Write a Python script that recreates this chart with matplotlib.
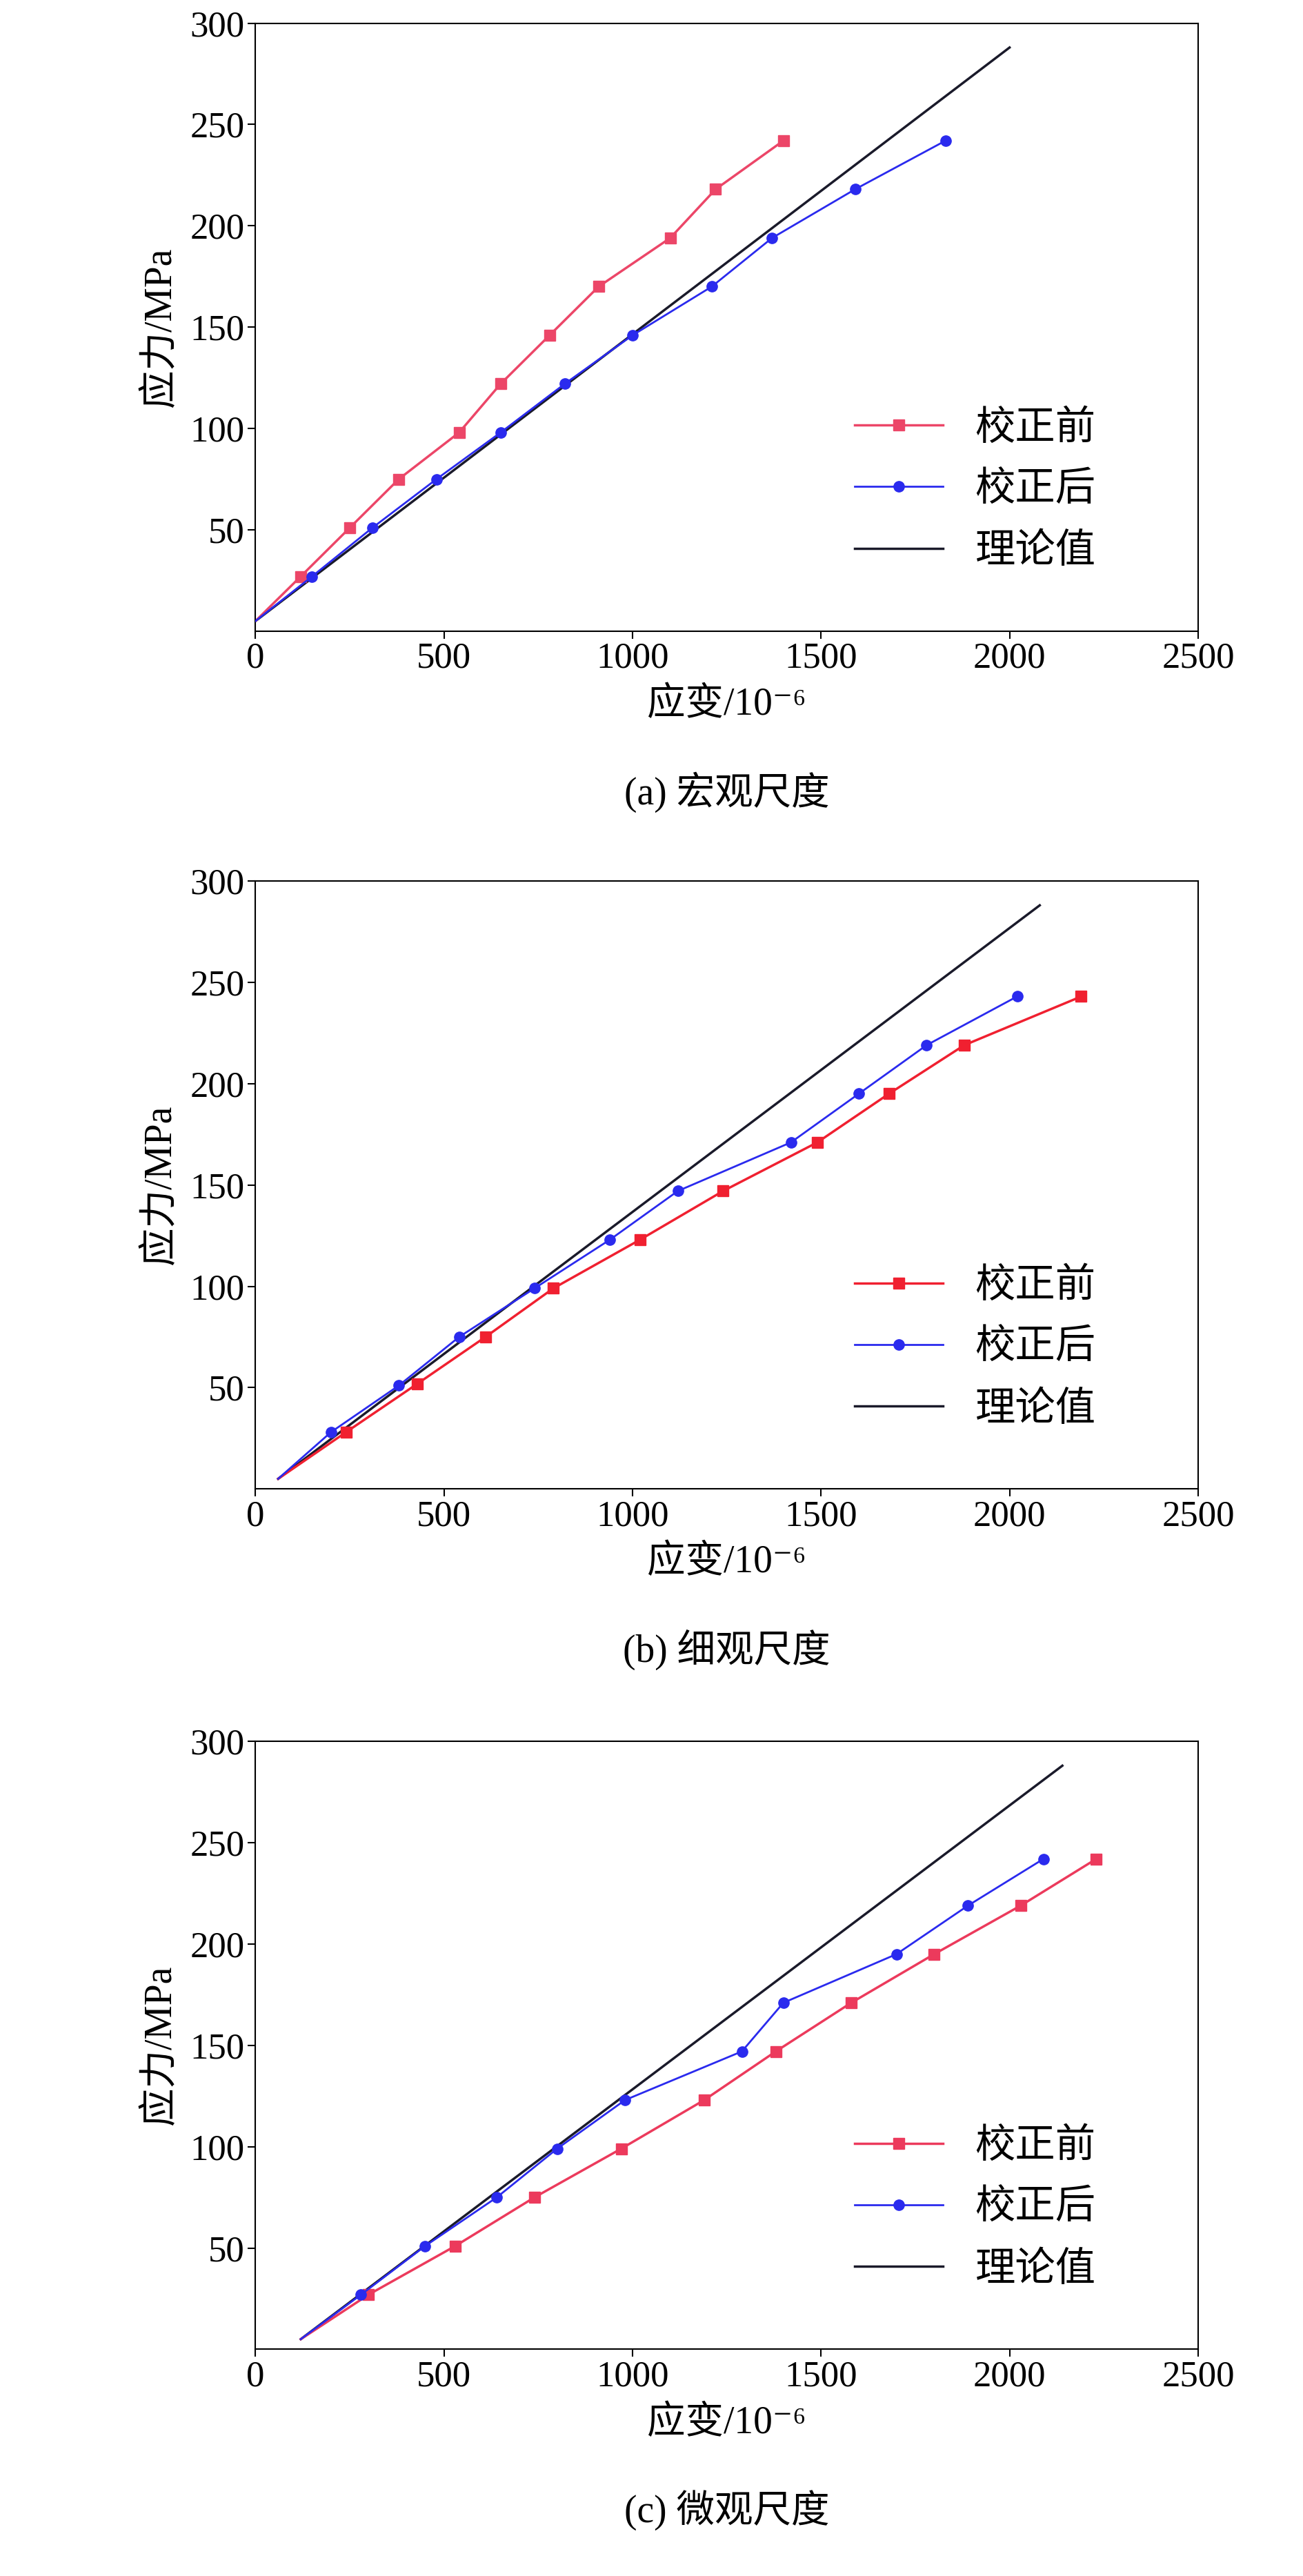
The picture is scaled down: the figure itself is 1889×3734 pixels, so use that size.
import matplotlib
matplotlib.use("Agg")
import matplotlib.pyplot as plt

plt.rcParams['font.family'] = ['Liberation Serif', 'Noto Sans CJK SC', 'DejaVu Sans']

titles = ["(a) 宏观尺度", "(b) 细观尺度", "(c) 微观尺度"]
theory = [((0, 2000), (5, 288)), ((60, 2080), (5, 288)), ((120, 2140), (5, 288))]
starts = [(0, 5), (60, 5), (120, 5)]
red_x = [[120, 250, 380, 540, 650, 780, 910, 1100, 1220, 1400],
         [240, 430, 610, 790, 1020, 1240, 1490, 1680, 1880, 2190],
         [300, 530, 740, 970, 1190, 1380, 1580, 1800, 2030, 2230]]
red_y = [[27, 51, 75, 98, 122, 146, 170, 194, 218, 242],
         [28, 52, 75, 99, 123, 147, 171, 195, 219, 243],
         [27, 51, 75, 99, 123, 147, 171, 195, 219, 242]]
blue_x = [[150, 310, 480, 650, 820, 1000, 1210, 1370, 1590, 1830],
          [200, 380, 540, 740, 940, 1120, 1420, 1600, 1780, 2020],
          [280, 450, 640, 800, 980, 1290, 1400, 1700, 1890, 2090]]
blue_y = [[27, 51, 75, 98, 122, 146, 170, 194, 218, 242],
          [28, 51, 75, 99, 123, 147, 171, 195, 219, 243],
          [27, 51, 75, 99, 123, 147, 171, 195, 219, 242]]
red_colors = ['#ec4668', '#f02030', '#ec3a5c']
blue_color = '#2a2aee'

fig = plt.figure(figsize=(18.9, 37.34), dpi=100)
bottoms = [0.755, 0.422, 0.088]
for i in range(3):
    ax = fig.add_axes([0.196, bottoms[i], 0.723, 0.236])
    sx, sy = starts[i]
    ax.plot(theory[i][0], theory[i][1], color='#1a1a2a', lw=2.5, zorder=1)
    ax.plot([sx, red_x[i][0]], [sy, red_y[i][0]], color=red_colors[i], lw=2.5, zorder=2)
    ax.plot([sx, blue_x[i][0]], [sy, blue_y[i][0]], color=blue_color, lw=2, zorder=3)
    h1, = ax.plot(red_x[i], red_y[i], color=red_colors[i], marker='s', ms=11, lw=2.5, zorder=2)
    h2, = ax.plot(blue_x[i], blue_y[i], color=blue_color, marker='o', ms=11, lw=2, zorder=3)
    h3, = ax.plot([], [], color='#1a1a2a', lw=2.5)
    ax.set_xlim(0, 2500)
    ax.set_ylim(0, 300)
    ax.set_xticks([0, 500, 1000, 1500, 2000, 2500])
    ax.set_yticks([50, 100, 150, 200, 250, 300])
    ax.tick_params(labelsize=38, width=1.5, length=8)
    for s in ax.spines.values():
        s.set_linewidth(1.5)
    ax.set_xlabel('应变/10⁻⁶', fontsize=40, labelpad=12)
    ax.set_ylabel('应力/MPa', fontsize=40, labelpad=12)
    ax.legend([h1, h2, h3], ['校正前', '校正后', '理论值'], loc='lower right',
              bbox_to_anchor=(0.93, 0.04), frameon=False, fontsize=42,
              handlelength=2.2, labelspacing=0.6)
    ax.text(0.5, -0.265, titles[i], transform=ax.transAxes, ha='center',
            va='center', fontsize=40)

fig.savefig('out.png', dpi=100)
